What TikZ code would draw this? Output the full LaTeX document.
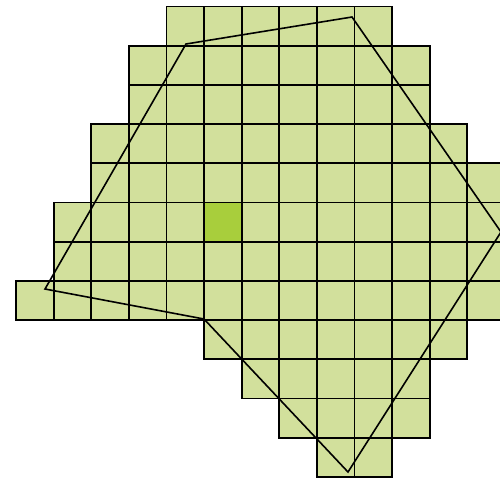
\documentclass[tikz,border=0pt]{standalone}
\definecolor{cellfill}{RGB}{210,224,156}
\definecolor{cellhi}{RGB}{168,206,60}
\begin{document}
\begin{tikzpicture}[x=1pt,y=-1pt,
  cell/.style={fill=cellfill,draw=black,line width=1.8pt},
  hicell/.style={fill=cellhi,draw=black,line width=1.8pt},
  outline/.style={draw=black,line width=1.6pt,line join=miter}]
\useasboundingbox (0,0) rectangle (500,480);
\clip (0,0) rectangle (500,480);
\foreach \r/\a/\b in {0/4/9,1/3/10,2/3/10,3/2/11,4/2/12,5/1/12,6/1/12,7/0/12,8/5/11,9/6/10,10/7/10,11/8/9}{
  \foreach \c in {\a,...,\b}{
    \path[cell] ({16+37.6*\c},{6.5+39.2*\r}) rectangle ++(37.6,39.2);
  }
}
\path[hicell] ({16+37.6*5},{6.5+39.2*5}) rectangle ++(37.6,39.2);
\coordinate (p1) at (186,44);
\coordinate (p2) at (352,17);
\coordinate (p3) at (501,232);
\coordinate (p4) at (348,472);
\coordinate (p5) at (204,319);
\coordinate (p6) at (45,289);
\draw[outline] (p1) -- (p2) -- (p3) -- (p4) -- (p5) -- (p6) -- cycle;
\end{tikzpicture}
\end{document}
